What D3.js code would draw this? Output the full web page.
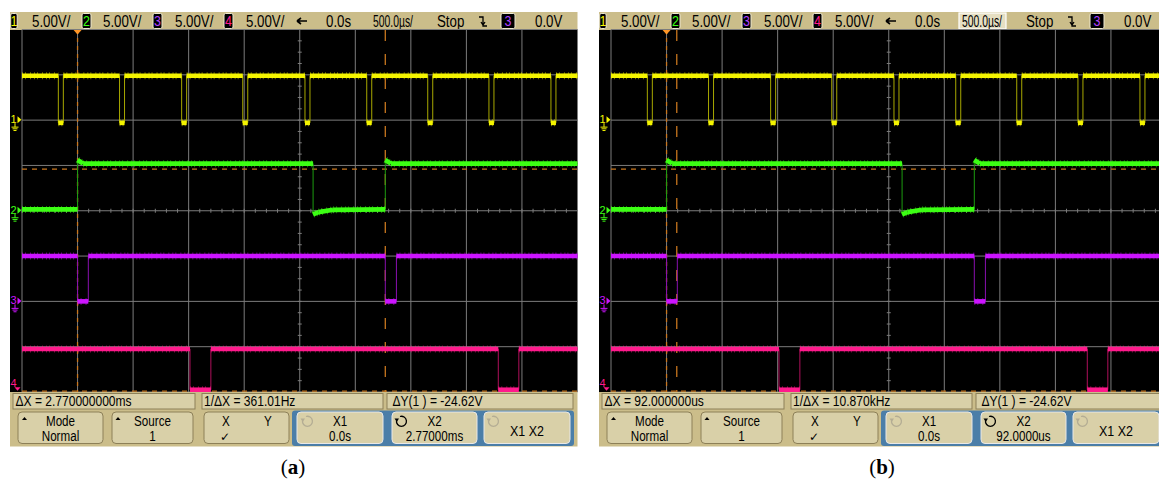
<!DOCTYPE html>
<html>
<head>
<meta charset="utf-8">
<script src="https://cdn.jsdelivr.net/npm/d3@7/dist/d3.min.js"></script>
<style>
body { margin: 0; background: #fff; }
svg { display: block; }
text { font-family: "Liberation Sans", Arial, sans-serif; }
</style>
</head>
<body>
<svg width="1159" height="479"></svg>
<script>
// scope settings: 500 us/div, 5 V/div, trigger at t = 0
var timeDomain = [-0.5, 4.5];          // ms
var divDomain = [-4, 4];               // vertical divisions
var voltsPerDiv = 5;

var chNames = ["1", "2", "3", "4"];
var chGround = [2, 0, -2, -3.95];      // ground marker position, div

// ch1 (yellow) - short low pulses
var ch1Falls = [-0.173, 0.378, 0.937, 1.487, 2.047, 2.603, 3.152, 3.703, 4.261];
var ch1Width = 0.045;
var ch1High = 4.9, ch1Low = -0.3;

// ch2 (green) [t ms, V]
var ch2Points = [[-0.5, 0.15], [0, 0.15], [0, 5.6], [0.05, 5.2], [2.12, 5.2], [2.12, -0.4],
  [2.17, -0.15], [2.3, 0.1], [2.77, 0.15], [2.77, 5.6], [2.82, 5.2], [4.5, 5.2]];

// ch3 (purple)
var ch3Points = [[-0.5, 5.0], [0, 5.0], [0, 0], [0.097, 0], [0.097, 5.0], [2.77, 5.0],
  [2.77, 0], [2.87, 0], [2.87, 5.0], [4.5, 5.0]];

// ch4 (pink)
var ch4Points = [[-0.5, 4.5], [1.012, 4.5], [1.012, 0], [1.2, 0], [1.2, 4.5], [3.787, 4.5],
  [3.787, 0], [3.972, 0], [3.972, 4.5], [4.5, 4.5]];

// cursors
var cursorX1 = 0;
var cursorX2 = [2.77, 0.092];          // ms, panel a / b
var cursorY = [-5.4, -29.9];           // V on ch1

// status line and readouts
var scaleTexts = ["5.00V/", "5.00V/", "5.00V/", "5.00V/"];
var delayText = "0.0s", timebaseText = "500.0\u00b5s/", runText = "Stop", trigLevelText = "0.0V";
var deltaXTexts = ["\u0394X = 2.770000000ms", "\u0394X = 92.000000us"];
var invDeltaXTexts = ["1/\u0394X = 361.01Hz", "1/\u0394X = 10.870kHz"];
var deltaYText = "\u0394Y(1 ) = -24.62V";
var x1Text = "0.0s";
var x2Texts = ["2.77000ms", "92.0000us"];
var panelLabels = ["a", "b"];
var panelX = [10, 599];

var chColor = ["#f4f400", "#3cff14", "#cc14ff", "#ff1a8c"];
var chEdge = ["#a8a800", "#1c9c10", "#8a10b0", "#b0105c"];
var tan = "#cbbd8a", boxFill = "#d9d0a8", boxLine = "#8d8058", cursorCol = "#c8761e";
var narrow = 0.83;   // no narrow font installed, squeeze the sans instead

var svg = d3.select("svg");

var x = d3.scaleLinear().domain(timeDomain).range([12, 567.5]);
var y = d3.scaleLinear().domain(divDomain).range([392, 29.5]);

function chY(ch, v) { return y(chGround[ch] + v / voltsPerDiv); }

function ch1Points() {
  var pts = [[timeDomain[0], ch1High]];
  ch1Falls.forEach(function(t) {
    pts.push([t, ch1High], [t, ch1Low], [t + ch1Width, ch1Low], [t + ch1Width, ch1High]);
  });
  pts.push([timeDomain[1], ch1High]);
  return pts;
}

function drawTrace(g, ch, pts) {
  var line = d3.line().x(function(d) { return x(d[0]); }).y(function(d) { return chY(ch, d[1]); });
  g.append("path").attr("d", line(pts)).attr("fill", "none")
    .attr("stroke", chEdge[ch]).attr("stroke-width", 1);
  var segs = [];
  for (var i = 0; i < pts.length - 1; i++) {
    if (pts[i][0] != pts[i + 1][0]) segs.push([pts[i], pts[i + 1]]);
  }
  g.selectAll(".fuzz" + ch).data(segs).enter().append("path")
    .attr("d", function(d) { return line(d); })
    .attr("fill", "none").attr("stroke", chColor[ch]).attr("stroke-width", 7)
    .attr("stroke-dasharray", "1,2,1,4,1,3").attr("opacity", 0.45);
  g.selectAll(".band" + ch).data(segs).enter().append("path")
    .attr("d", function(d) { return line(d); })
    .attr("fill", "none").attr("stroke", chColor[ch]).attr("stroke-width", 4.6);
}

function label(g, txt, px, py, size, anchor, fill) {
  var t = g.append("text").attr("x", px).attr("y", py).attr("font-size", size)
    .attr("text-anchor", anchor || "start").attr("fill", fill || "#000").text(txt);
  var len = t.node().getComputedTextLength();
  t.attr("textLength", len * narrow).attr("lengthAdjust", "spacingAndGlyphs");
  return t;
}

function chipBox(g, x0, w, num, col) {
  g.append("rect").attr("x", x0).attr("y", 13.5).attr("width", w).attr("height", 15)
    .attr("rx", 1.5).attr("fill", "#000").attr("stroke", "#eee8d0").attr("stroke-width", 1);
  label(g, num, x0 + w / 2, 26, 15, "middle", col);
}

function drawPanel(p) {
  var g = svg.append("g").attr("transform", "translate(" + panelX[p] + ",0)");

  // status line
  g.append("rect").attr("x", 0).attr("y", 12).attr("width", 567.5).attr("height", 18).attr("fill", tan);
  var chipX = [0.7, 72, 143, 214], chipW = [6.5, 9, 9, 9], textX = [22, 93, 165, 236];
  chNames.forEach(function(c, i) {
    chipBox(g, chipX[i], chipW[i], c, i == 2 ? "#b040ff" : chColor[i]);
    label(g, scaleTexts[i], textX[i], 26.5, 16);
  });
  g.append("path").attr("d", "M287,21H297M287,21l4,-3M287,21l4,3").attr("stroke", "#000")
    .attr("stroke-width", 1.6).attr("fill", "none");
  label(g, delayText, 316, 26.5, 16);
  if (p == 1) {
    g.append("rect").attr("x", 360).attr("y", 13).attr("width", 47).attr("height", 16)
      .attr("fill", "#e6dfc2").attr("stroke", "#fff").attr("stroke-width", 1.2);
  }
  g.append("text").attr("x", 363).attr("y", 26.5).attr("font-size", 16).text(timebaseText)
    .attr("textLength", 40).attr("lengthAdjust", "spacingAndGlyphs");
  label(g, runText, 427, 26.5, 16);
  g.append("path").attr("d", "M469,17H473V26H477M471,22l2,3l2,-3").attr("stroke", "#000")
    .attr("stroke-width", 1.3).attr("fill", "none");
  g.append("rect").attr("x", 491).attr("y", 13.5).attr("width", 14).attr("height", 15)
    .attr("rx", 1.5).attr("fill", "#000").attr("stroke", "#eee8d0");
  label(g, "3", 498, 26, 15, "middle", "#b040ff");
  label(g, trigLevelText, 525, 26.5, 16);

  // screen
  g.append("rect").attr("x", 0).attr("y", 30).attr("width", 567.5).attr("height", 362).attr("fill", "#000");
  var grid = g.append("g").attr("stroke", "#7c7c7c").attr("stroke-width", 1);
  d3.range(timeDomain[0], timeDomain[1] + 0.01, 0.5).forEach(function(t) {
    grid.append("line").attr("x1", x(t)).attr("x2", x(t)).attr("y1", y(4)).attr("y2", y(-4));
  });
  d3.range(-4, 4.01, 1).forEach(function(d) {
    grid.append("line").attr("x1", x(timeDomain[0])).attr("x2", x(timeDomain[1])).attr("y1", y(d)).attr("y2", y(d));
  });
  // minor ticks on centre lines
  var tc = (timeDomain[0] + timeDomain[1]) / 2;
  d3.range(timeDomain[0], timeDomain[1] + 0.001, 0.1).forEach(function(t) {
    grid.append("line").attr("x1", x(t)).attr("x2", x(t)).attr("y1", y(0) - 2).attr("y2", y(0) + 2);
  });
  d3.range(-4, 4.001, 0.25).forEach(function(d) {
    grid.append("line").attr("x1", x(tc) - 2).attr("x2", x(tc) + 2).attr("y1", y(d)).attr("y2", y(d));
  });

  // cursors
  g.append("line").attr("x1", x(cursorX1)).attr("x2", x(cursorX1)).attr("y1", 30).attr("y2", 392)
    .attr("stroke", cursorCol).attr("stroke-width", 1.3).attr("stroke-dasharray", "4,4");
  g.append("line").attr("x1", x(cursorX2[p])).attr("x2", x(cursorX2[p])).attr("y1", 30).attr("y2", 392)
    .attr("stroke", cursorCol).attr("stroke-width", 1.3).attr("stroke-dasharray", "11,13");
  cursorY.forEach(function(v) {
    g.append("line").attr("x1", x(timeDomain[0])).attr("x2", x(timeDomain[1]))
      .attr("y1", chY(0, v)).attr("y2", chY(0, v))
      .attr("stroke", cursorCol).attr("stroke-width", 1.2).attr("stroke-dasharray", "5,5");
  });
  g.append("path").attr("d", "M" + (x(cursorX1) - 4) + ",30h8l-4,4.5z").attr("fill", "#ff9626");

  // traces
  var tr = g.append("g");
  drawTrace(tr, 0, ch1Points());
  drawTrace(tr, 1, ch2Points);
  drawTrace(tr, 2, ch3Points);
  drawTrace(tr, 3, ch4Points);

  // channel markers
  [0, 1, 2].forEach(function(c) {
    var gy = y(chGround[c]);
    var m = g.append("g").attr("fill", chColor[c]).attr("stroke", chColor[c]);
    m.append("text").attr("x", 0.5).attr("y", gy + 3).attr("font-size", 11).attr("stroke", "none").text(chNames[c]);
    m.append("path").attr("d", "M7.5," + (gy - 4) + "L11.5," + (gy - 0.5) + "L7.5," + (gy + 3) + "Z").attr("stroke", "none");
    m.append("path").attr("fill", "none").attr("stroke-width", 1)
      .attr("d", "M5," + (gy + 3) + "V" + (gy + 7) + "M1.5," + (gy + 7) + "H8.5M2.5," + (gy + 8.7) + "H7.5M3.5," + (gy + 10.4) + "H6.5");
  });
  var g4 = y(chGround[3]);
  g.append("text").attr("x", 0.5).attr("y", g4 - 3).attr("font-size", 11).attr("fill", chColor[3]).text(chNames[3]);
  g.append("path").attr("d", "M4.5," + (g4 - 2.5) + "h6l-3,3.5z").attr("fill", chColor[3]);

  // readout row
  g.append("rect").attr("x", 0).attr("y", 392).attr("width", 567.5).attr("height", 54.5).attr("fill", tan);
  var rb = [[3, 182], [192, 181], [377, 186]];
  rb.forEach(function(b) {
    g.append("rect").attr("x", b[0]).attr("y", 393.5).attr("width", b[1]).attr("height", 15.5)
      .attr("fill", boxFill).attr("stroke", boxLine).attr("stroke-width", 1);
  });
  label(g, deltaXTexts[p], 5.5, 406, 14.5);
  label(g, invDeltaXTexts[p], 194, 406, 14.5);
  label(g, deltaYText, 382.5, 406, 14.5);

  // softkeys
  g.append("rect").attr("x", 282).attr("y", 410.5).attr("width", 282).attr("height", 35.5)
    .attr("fill", "#4b7ea8").attr("rx", 3);
  var keys = [[8, 85], [102, 81], [194, 85], [287, 86], [382, 85], [474, 86]];
  keys.forEach(function(k, i) {
    g.append("rect").attr("x", k[0]).attr("y", 412).attr("width", k[1]).attr("height", 31.5).attr("rx", 4)
      .attr("fill", boxFill).attr("stroke", i >= 3 ? "#e8e8e8" : boxLine).attr("stroke-width", 1);
  });
  function keyText(k, l1, l2) {
    var cx = keys[k][0] + keys[k][1] / 2;
    if (l2 == null) { label(g, l1, cx, 436, 15, "middle"); return; }
    label(g, l1, cx, 425.5, 14, "middle");
    label(g, l2, cx, 440.5, 14, "middle");
  }
  keyText(0, "Mode", "Normal");
  keyText(1, "Source", "1");
  label(g, "X", 216, 425.5, 14, "middle");
  label(g, "Y", 258, 425.5, 14, "middle");
  g.append("text").attr("x", 215).attr("y", 441).attr("font-size", 12).attr("text-anchor", "middle")
    .style("font-family", "DejaVu Sans").text("\u2713");
  keyText(3, "X1", x1Text);
  keyText(4, "X2", x2Texts[p]);
  keyText(5, "X1 X2");
  [[12, 420], [105.5, 420]].forEach(function(a) {
    g.append("path").attr("d", "M" + a[0] + "," + a[1] + "l2.5,-3l2.5,3z").attr("fill", "#000");
  });
  [[291, "#b4ad94"], [385, "#000"], [477, "#b4ad94"]].forEach(function(a) {
    var cx = a[0] + 6, cy = 421.5;
    g.append("path").attr("fill", "none").attr("stroke", a[1]).attr("stroke-width", 1.3)
      .attr("d", "M" + (cx - 4.5) + "," + (cy - 1) + "A5,5 0 1,0 " + (cx - 1) + "," + (cy - 5));
    g.append("path").attr("fill", a[1]).attr("d", "M" + (cx - 6.5) + "," + (cy - 3) + "l4.5,0l-2.2,3.5z");
  });

  // figure label
  var t = g.append("text").attr("x", 283).attr("y", 474).attr("text-anchor", "middle")
    .attr("font-size", 21).style("font-family", "'Liberation Serif', serif");
  t.append("tspan").text("(");
  t.append("tspan").attr("font-weight", "bold").text(panelLabels[p]);
  t.append("tspan").text(")");
}

drawPanel(0);
drawPanel(1);
</script>
</body>
</html>
